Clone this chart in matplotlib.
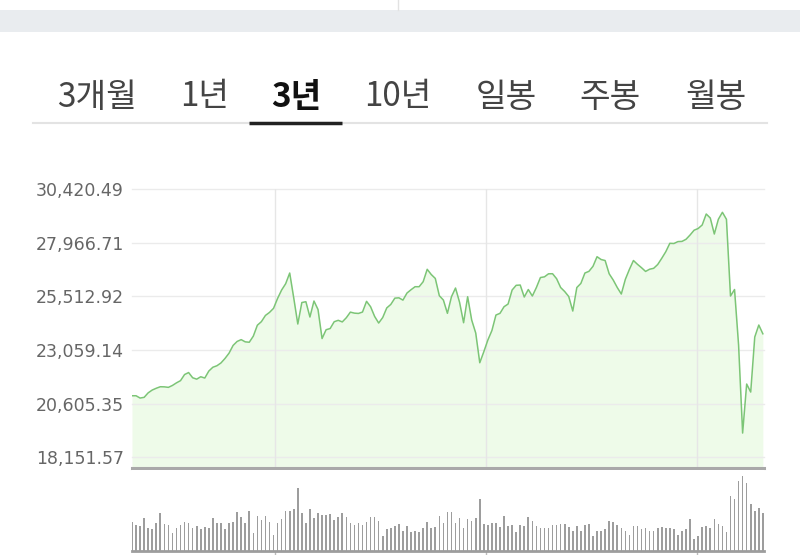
import pandas as pd
import matplotlib
matplotlib.use('Agg')
import matplotlib.pyplot as plt
from matplotlib.patches import Rectangle

# weekly closes over 3 years
closes = [20966, 20966, 20861, 20893, 21099, 21227, 21309, 21378, 21373, 21350,
          21437, 21556, 21657, 21936, 22027, 21789, 21725, 21835, 21776, 22096,
          22270, 22338, 22466, 22672, 22914, 23267, 23450, 23532, 23431, 23413,
          23692, 24191, 24355, 24639, 24776, 24964, 25416, 25801, 26089, 26578,
          25435, 24246, 25229, 25266, 24566, 25298, 24909, 23582, 23985, 24040,
          24351, 24415, 24342, 24534, 24790, 24744, 24730, 24794, 25284, 25037,
          24593, 24291, 24543, 24982, 25142, 25430, 25444, 25339, 25663, 25814,
          25952, 25952, 26180, 26748, 26510, 26331, 25540, 25343, 24735, 25494,
          25892, 25243, 24305, 25494, 24429, 23834, 22475, 22979, 23514, 23948,
          24657, 24735, 25037, 25160, 25801, 26016, 26029, 25481, 25824, 25526,
          25915, 26372, 26404, 26542, 26546, 26318, 25915, 25732, 25503, 24840,
          25915, 26103, 26578, 26656, 26885, 27324, 27196, 27150, 26542, 26258,
          25915, 25618, 26290, 26743, 27150, 26976, 26821, 26651, 26752, 26793,
          26967, 27251, 27553, 27937, 27928, 28015, 28024, 28120, 28316, 28536,
          28614, 28774, 29277, 29094, 28362, 29035, 29355, 29035, 25526, 25824,
          23285, 19260, 21501, 21135, 23651, 24200, 23800]

# weekly volume (relative units, no scale on the chart)
volumes = [29.3, 26, 25, 32.7, 22.7, 21.7, 28.3, 37.7, 27, 26,
           18.3, 22.7, 26, 28.7, 27.7, 22.7, 25, 21.7, 23.7, 22.7,
           32.7, 27.7, 27.7, 21.7, 27.7, 29.3, 39.3, 34.3, 27.7, 40.3,
           18.3, 35, 31, 35, 29.3, 16, 28.3, 31.7, 40.3, 40.3,
           41.7, 62.7, 38.3, 28.3, 41.7, 32.7, 38.3, 36, 36, 37,
           31, 33.7, 37.7, 34.3, 28.3, 26, 28.3, 26, 29.3, 34.3,
           34.3, 30.3, 15, 21.7, 22.7, 25, 27, 20.3, 25, 19.3,
           20.3, 19.3, 22.7, 29.3, 22.7, 23.7, 35, 28.3, 39.3, 39.3,
           28.3, 32.7, 22.7, 31.7, 30.3, 32.7, 51.7, 27, 26, 28.3,
           27.7, 23.7, 35, 25, 26, 19.3, 26, 25, 33.7, 30.3,
           25, 22.7, 22.7, 22.7, 26, 26, 27, 27, 23.7, 20.3,
           25, 20.3, 26, 27, 15, 20.3, 20.3, 21.7, 30.3, 29.3,
           26, 22.7, 20.3, 16, 25, 25, 21.7, 22.7, 20.3, 20.3,
           22.7, 23.7, 22.7, 22.7, 21.7, 16, 20.3, 21.7, 31.7, 11.7,
           15, 23.7, 25, 22.7, 31.7, 27, 25, 19.3, 55, 51.7,
           70.3, 75, 68.3, 47, 40.3, 42.7, 37.7]

dates = pd.date_range('2017-04-28', periods=len(closes), freq='W-FRI')
year_lines = pd.to_datetime(['2018-01-01', '2019-01-01', '2020-01-01'])

y_ticks = [18151.57, 20605.35, 23059.14, 25512.92, 27966.71, 30420.49]
tabs = ['3개월', '1년', '3년', '10년', '일봉', '주봉', '월봉']
tab_x = [97, 205, 296, 398, 506, 610, 716]
active_tab = '3년'

fig = plt.figure(figsize=(8, 5.55), dpi=100)
fig.patch.set_facecolor('white')

# page chrome: grey band on top and the period tabs
bg = fig.add_axes([0, 0, 1, 1])
bg.set_xlim(0, 800)
bg.set_ylim(555, 0)
bg.axis('off')
bg.add_patch(Rectangle((0, 10), 800, 22, color='#e9ecef', lw=0))
bg.plot([398, 398], [0, 10], color='#e2e2e2', lw=1)
for t, x in zip(tabs, tab_x):
    bold = t == active_tab
    bg.text(x, 97, t, ha='center', va='center', fontsize=24,
            family=['Noto Sans CJK KR', 'DejaVu Sans'],
            fontweight='bold' if bold else 'normal',
            color='#111111' if bold else '#444444')
bg.plot([33, 767], [123, 123], color='#e3e3e3', lw=1.5)
bg.plot([249, 342], [123, 123], color='#222222', lw=2.5, solid_capstyle='butt')

# price panel
step = y_ticks[1] - y_ticks[0]
y_low = y_ticks[0] - step * 10.4 / 53.65
ax = fig.add_axes([132 / 800, (555 - 467.7) / 555, 632 / 800, (467.7 - 189) / 555])
ax.fill_between(dates, closes, y_low, color='#eefbe9', lw=0, zorder=1)
for v in y_ticks:
    ax.axhline(v, color='#ebebeb', lw=1, zorder=1.5, clip_on=False)
for d in year_lines:
    ax.axvline(d, color='#e6e6e6', lw=1, zorder=1.5)
ax.plot(dates, closes, color='#7cc576', lw=1.1, zorder=3)
ax.set_xlim(dates[0], dates[-1] + pd.Timedelta(days=2))
ax.set_ylim(y_low, y_ticks[-1])
ax.set_yticks(y_ticks)
ax.set_yticklabels(['{:,.2f}'.format(v) for v in y_ticks])
ax.set_xticks([])
ax.tick_params(axis='y', length=0, pad=6, labelsize=12.5, labelcolor='#666666')
for s in ['top', 'right', 'left']:
    ax.spines[s].set_visible(False)
ax.spines['bottom'].set_color('#a9a9a9')
ax.spines['bottom'].set_linewidth(2.2)

# volume panel
vax = fig.add_axes([132 / 800, 4 / 555, 632 / 800, 81 / 555])
vax.bar(dates, volumes, width=2.8, color='#9d9d9d', lw=0)
vax.set_xlim(ax.get_xlim())
vax.set_ylim(0, 81)
vax.set_yticks([])
vax.set_xticks(year_lines)
vax.set_xticklabels([])
vax.tick_params(axis='x', length=4, width=1, color='#bbbbbb')
for s in ['top', 'right', 'left']:
    vax.spines[s].set_visible(False)
vax.spines['bottom'].set_color('#9d9d9d')
vax.spines['bottom'].set_linewidth(2)

fig.savefig('out.png', dpi=100)
